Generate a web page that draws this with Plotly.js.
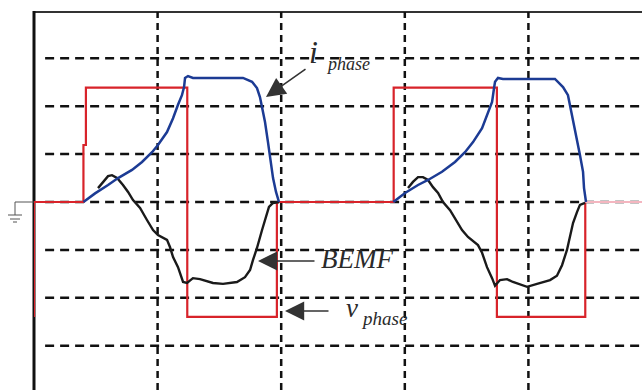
<!DOCTYPE html>
<html>
<head>
<meta charset="utf-8">
<script src="https://cdn.plot.ly/plotly-3.0.1.min.js"></script>
<style>html,body{margin:0;padding:0;background:#fff;}#plot{width:642px;height:390px;}</style>
</head>
<body>
<div id="plot"></div>
<script>
// Time in grid divisions, amplitude in grid divisions
const vPhaseX = [0, 0, 0.40, 0.40, 0.42, 0.42, 1.24, 1.24, 1.965, 1.965, 2.91, 2.91, 3.745, 3.745, 4.46, 4.46];
const vPhaseY = [-2.40, 0, 0, 1.19, 1.19, 2.39, 2.39, -2.40, -2.40, 0, 0, 2.39, 2.39, -2.40, -2.40, 0];
const vTailX = [4.46, 4.92];
const vTailY = [0, 0];

const iPhaseX = [0.40, 0.494, 0.599, 0.680, 0.793, 0.874, 0.955, 1.003, 1.076, 1.125, 1.165, 1.197, 1.214, 1.222, 1.246, 1.286, 1.691, 1.764, 1.804, 1.828, 1.845, 1.869, 1.893, 1.917, 1.934, 1.958, 1.982,
  null,
  2.907, 3.002, 3.107, 3.188, 3.301, 3.406, 3.487, 3.552, 3.625, 3.665, 3.706, 3.722, 3.730, 3.754, 3.794, 4.215, 4.280, 4.320, 4.337, 4.361, 4.393, 4.417, 4.442, 4.450, 4.466];
const iPhaseY = [0, 0.18, 0.355, 0.50, 0.67, 0.835, 1.04, 1.19, 1.46, 1.75, 2.03, 2.23, 2.40, 2.59, 2.63, 2.59, 2.59, 2.51, 2.38, 2.19, 1.98, 1.67, 1.25, 0.835, 0.50, 0.21, 0,
  null,
  0, 0.19, 0.355, 0.46, 0.63, 0.835, 1.04, 1.25, 1.54, 1.82, 2.09, 2.38, 2.51, 2.59, 2.57, 2.57, 2.40, 2.23, 2.02, 1.67, 1.34, 0.98, 0.63, 0.29, 0];

const bemfX = [0.518, 0.558, 0.599, 0.631, 0.672, 0.720, 0.761, 0.801, 0.858, 0.914, 0.963, 1.003, 1.076, 1.100, 1.125, 1.165, 1.206, 1.238, 1.286, 1.343, 1.448, 1.529, 1.642, 1.707, 1.748, 1.772, 1.804, 1.845, 1.877, 1.901, 1.934, 1.982,
  null,
  3.026, 3.066, 3.107, 3.147, 3.188, 3.228, 3.269, 3.309, 3.366, 3.422, 3.463, 3.511, 3.592, 3.625, 3.665, 3.706, 3.730, 3.770, 3.827, 3.875, 3.989, 4.070, 4.175, 4.231, 4.272, 4.312, 4.337, 4.361, 4.393, 4.417, 4.458];
const bemfY = [0.29, 0.42, 0.54, 0.56, 0.50, 0.355, 0.21, 0.04, -0.125, -0.376, -0.585, -0.69, -0.79, -0.94, -1.15, -1.36, -1.67, -1.69, -1.59, -1.61, -1.69, -1.71, -1.67, -1.57, -1.42, -1.21, -0.96, -0.585, -0.31, -0.10, -0.02, 0,
  null,
  0.29, 0.42, 0.52, 0.52, 0.46, 0.31, 0.19, 0, -0.17, -0.42, -0.585, -0.73, -0.90, -1.06, -1.36, -1.59, -1.75, -1.63, -1.61, -1.67, -1.77, -1.71, -1.63, -1.54, -1.32, -1.00, -0.73, -0.44, -0.21, -0.06, -0.02];

const gridXs = [1, 2, 3, 4];
const gridYs = [-3, -2, -1, 0, 1, 2, 3];
const xRange = [0, 4.919];
const yRange = [-3.925, 3.967];

const W = 642, H = 390, ML = 34, MT = 12;
const px = v => (v - ML) / (W - ML);
const py = v => (H - v) / (H - MT);

const traces = [
  {x: vPhaseX, y: vPhaseY, mode: 'lines', line: {color: '#d8232a', width: 2.2}, hoverinfo: 'skip'},
  {x: vTailX, y: vTailY, mode: 'lines', line: {color: '#f4b6c0', width: 2}, hoverinfo: 'skip'},
  {x: bemfX, y: bemfY, mode: 'lines', line: {color: '#1a1a1a', width: 2.4}, hoverinfo: 'skip'},
  {x: iPhaseX, y: iPhaseY, mode: 'lines', line: {color: '#1c3b94', width: 2.5}, hoverinfo: 'skip'}
];

const shapes = [];
gridYs.forEach(g => shapes.push({type: 'line', xref: 'x', yref: 'y', x0: 0.09, x1: xRange[1], y0: g, y1: g, layer: 'below', line: {color: '#111', width: 2.5, dash: '9px,6px'}}));
gridXs.forEach(g => shapes.push({type: 'line', xref: 'x', yref: 'y', x0: g, x1: g, y0: yRange[0], y1: yRange[1], layer: 'below', line: {color: '#111', width: 2.5, dash: '7px,5px'}}));
// frame
shapes.push({type: 'line', xref: 'paper', yref: 'paper', x0: 0, x1: 1, y0: py(12), y1: py(12), layer: 'below', line: {color: '#333', width: 2}});
shapes.push({type: 'line', xref: 'paper', yref: 'paper', x0: 0, x1: 0, y0: 0, y1: py(11), layer: 'below', line: {color: '#111', width: 3}});
// ground symbol
const gnd = [[34, 202, 15, 202], [15, 202, 15, 215], [8, 215, 22, 215], [10, 219, 20, 219], [13, 222, 17, 222]];
gnd.forEach(s => shapes.push({type: 'line', xref: 'paper', yref: 'paper', x0: px(s[0]), y0: py(s[1]), x1: px(s[2]), y1: py(s[3]), line: {color: '#555', width: 1}}));

const serif = 'Liberation Serif, Times New Roman, serif';
const tcol = '#2a2a2a';
const ann = (t, x, y, size) => ({text: t, xref: 'paper', yref: 'paper', x: px(x), y: py(y), xanchor: 'left', yanchor: 'middle', showarrow: false, borderpad: 0, font: {family: serif, size: size, color: tcol, style: 'italic'}});
const arrow = (hx, hy, tx, ty) => ({text: '', xref: 'paper', yref: 'paper', x: px(hx), y: py(hy), ax: tx - hx, ay: ty - hy, showarrow: true, arrowhead: 2, arrowsize: 2.4, arrowwidth: 1.6, arrowcolor: '#333', standoff: 0});

const annotations = [
  ann('i', 308, 52, 32),
  ann('phase', 325, 64, 18),
  ann('BEMF', 320, 259, 27),
  ann('v', 345, 308, 27),
  ann('phase', 360, 318, 19),
  arrow(266, 97, 307, 68),
  arrow(258, 261, 316, 261),
  arrow(285, 311, 330, 311)
];

const layout = {
  width: W, height: H,
  margin: {l: ML, r: 0, t: MT, b: 0},
  paper_bgcolor: '#fff', plot_bgcolor: '#fff',
  showlegend: false,
  xaxis: {range: xRange, showgrid: false, zeroline: false, showticklabels: false, ticks: '', showline: false, fixedrange: true},
  yaxis: {range: yRange, showgrid: false, zeroline: false, showticklabels: false, ticks: '', showline: false, fixedrange: true},
  shapes: shapes,
  annotations: annotations
};

Plotly.newPlot('plot', traces, layout, {staticPlot: true, displayModeBar: false});
</script>
</body>
</html>
